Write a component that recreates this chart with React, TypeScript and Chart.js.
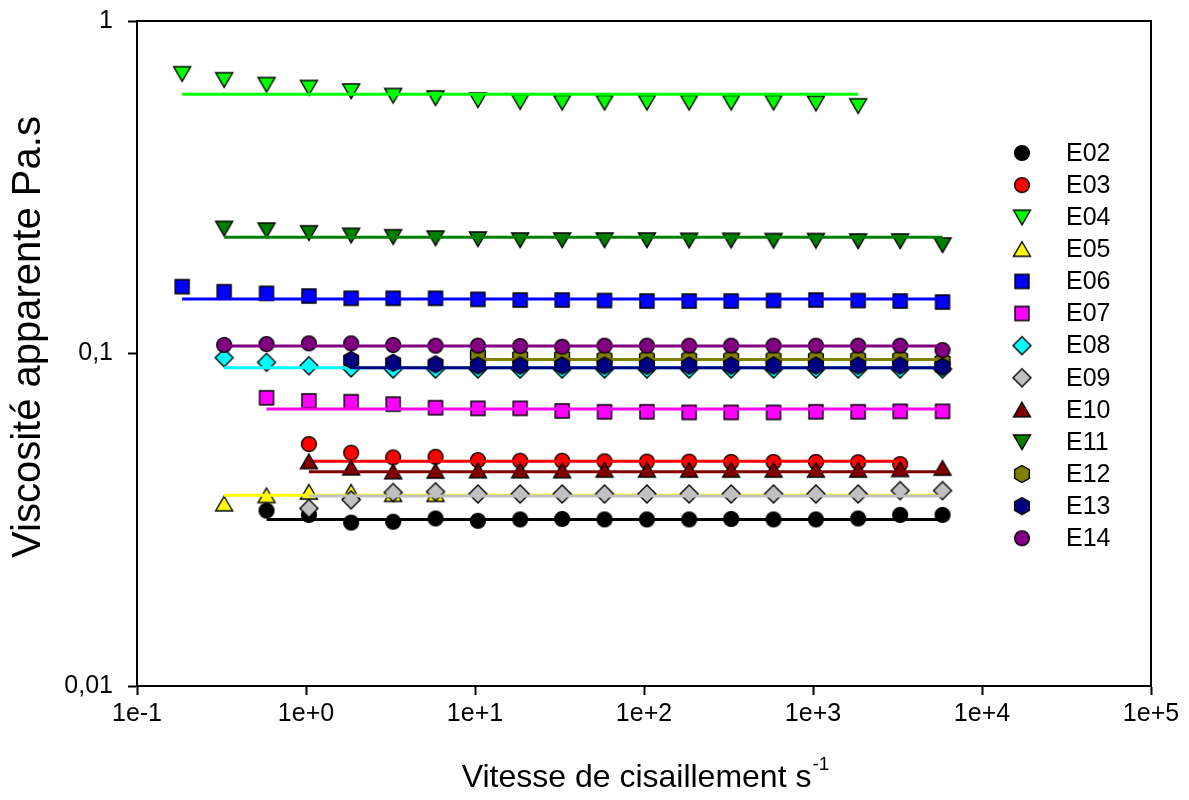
import React, { useEffect, useRef } from 'react';
import { Chart, registerables } from 'chart.js';

Chart.register(...registerables);

// Shear rate (s^-1) sampling points
const SHEAR_RATE = [0.185, 0.328, 0.584, 1.04, 1.85, 3.28, 5.84, 10.4, 18.5, 32.8, 58.4, 104, 185, 328, 584, 1040, 1850, 3280, 5840];

// Apparent viscosity (Pa.s), null = no measurement
const E02 = [null, null, 0.0337, 0.0327, 0.0310, 0.0312, 0.0319, 0.0314, 0.0317, 0.0318, 0.0317, 0.0317, 0.0317, 0.0318, 0.0317, 0.0317, 0.0319, 0.0327, 0.0327];
const E03 = [null, null, null, 0.0534, 0.0503, 0.0487, 0.0489, 0.0478, 0.0476, 0.0476, 0.0474, 0.0473, 0.0473, 0.0472, 0.0472, 0.0472, 0.0471, 0.0465, null];
const E04 = [0.694, 0.666, 0.644, 0.631, 0.616, 0.597, 0.587, 0.579, 0.572, 0.569, 0.569, 0.569, 0.569, 0.569, 0.569, 0.566, 0.556, null, null];
const E05 = [null, 0.0353, 0.0374, 0.0383, 0.0383, 0.0377, 0.0377, null, null, null, null, null, null, null, null, null, null, null, null];
const E06 = [0.1589, 0.1534, 0.1517, 0.1489, 0.1466, 0.1466, 0.1466, 0.1455, 0.1448, 0.1448, 0.1443, 0.1438, 0.1438, 0.1438, 0.1443, 0.1448, 0.1443, 0.1438, 0.1428];
const E07 = [null, null, 0.0736, 0.0720, 0.0716, 0.0704, 0.0687, 0.0684, 0.0684, 0.0672, 0.0668, 0.0668, 0.0665, 0.0665, 0.0665, 0.0668, 0.0668, 0.0670, 0.0670];
const E08 = [null, 0.0971, 0.0941, 0.0919, 0.0905, 0.0898, 0.0898, 0.0898, 0.0898, 0.0898, 0.0898, 0.0898, 0.0898, 0.0898, 0.0898, 0.0898, 0.0898, 0.0898, 0.0898];
const E09 = [null, null, null, 0.0342, 0.0363, 0.0382, 0.0384, 0.0378, 0.0378, 0.0378, 0.0378, 0.0378, 0.0378, 0.0378, 0.0378, 0.0378, 0.0378, 0.0387, 0.0387];
const E10 = [null, null, null, 0.0473, 0.0453, 0.0441, 0.0443, 0.0444, 0.0444, 0.0444, 0.0446, 0.0446, 0.0446, 0.0446, 0.0446, 0.0446, 0.0446, 0.0448, 0.0452];
const E11 = [null, 0.2379, 0.2351, 0.2307, 0.2267, 0.2245, 0.2225, 0.2210, 0.2195, 0.2195, 0.2195, 0.2195, 0.2190, 0.2190, 0.2187, 0.2187, 0.2180, 0.2180, 0.2120];
const E12 = [null, null, null, null, null, null, null, 0.0990, 0.0978, 0.0978, 0.0967, 0.0967, 0.0967, 0.0967, 0.0967, 0.0967, 0.0967, 0.0967, 0.0949];
const E13 = [null, null, null, null, 0.0956, 0.0938, 0.0928, 0.0920, 0.0920, 0.0920, 0.0920, 0.0920, 0.0920, 0.0920, 0.0920, 0.0920, 0.0920, 0.0920, 0.0912];
const E14 = [null, 0.1061, 0.1068, 0.1073, 0.1073, 0.1061, 0.1056, 0.1056, 0.1053, 0.1048, 0.1056, 0.1056, 0.1056, 0.1056, 0.1056, 0.1056, 0.1056, 0.1056, 0.1024];

// Fitted apparent viscosity per sample and the shear-rate index range of each fit line
const FIT_VALUES = [0.0317, 0.0474, 0.602, 0.0375, 0.1458, 0.0681, 0.0906, 0.0373, 0.0441, 0.2236, 0.0960, 0.0906, 0.1053];
const FIT_START_INDEX = [2, 3, 0, 1, 0, 2, 1, 3, 3, 1, 7, 4, 1];
const FIT_END_INDEX = [18, 17, 16, 18, 18, 18, 18, 18, 18, 18, 18, 18, 18];

const SERIES_NAMES = ['E02', 'E03', 'E04', 'E05', 'E06', 'E07', 'E08', 'E09', 'E10', 'E11', 'E12', 'E13', 'E14'];
const SERIES_VALUES = [E02, E03, E04, E05, E06, E07, E08, E09, E10, E11, E12, E13, E14];
const SERIES_COLORS = ['#000000', '#FF0000', '#00FF00', '#FFFF00', '#0000FF', '#FF00FF', '#00FFFF', '#C0C0C0', '#800000', '#008000', '#808000', '#000080', '#800080'];
const SERIES_MARKERS = ['circle', 'circle', 'triangleDown', 'triangleUp', 'square', 'square', 'diamond', 'diamond', 'triangleUp', 'triangleDown', 'hexagon', 'hexagon', 'circle'];

const X_TICKS = [0.1, 1, 10, 100, 1000, 10000, 100000];
const X_TICK_LABELS = ['1e-1', '1e+0', '1e+1', '1e+2', '1e+3', '1e+4', '1e+5'];
const Y_TICKS = [0.01, 0.1, 1];
const Y_TICK_LABELS = ['0,01', '0,1', '1'];

const X_TITLE = 'Vitesse de cisaillement s';
const X_TITLE_SUP = '-1';
const Y_TITLE = 'Viscosité apparente Pa.s';

const FONT = "'Liberation Sans', Arial, sans-serif";

function makeMarker(shape: string, color: string): HTMLCanvasElement {
  const size = 24;
  const c = document.createElement('canvas');
  c.width = size;
  c.height = size;
  const ctx = c.getContext('2d') as CanvasRenderingContext2D;
  const m = size / 2;
  ctx.beginPath();
  switch (shape) {
    case 'circle':
      ctx.arc(m, m, 7.4, 0, Math.PI * 2);
      break;
    case 'square':
      ctx.rect(m - 7, m - 7, 14, 14);
      break;
    case 'diamond':
      ctx.moveTo(m, m - 9);
      ctx.lineTo(m + 9, m);
      ctx.lineTo(m, m + 9);
      ctx.lineTo(m - 9, m);
      ctx.closePath();
      break;
    case 'triangleUp':
      ctx.moveTo(m, m - 7.5);
      ctx.lineTo(m + 8.5, m + 7);
      ctx.lineTo(m - 8.5, m + 7);
      ctx.closePath();
      break;
    case 'triangleDown':
      ctx.moveTo(m - 8.5, m - 7);
      ctx.lineTo(m + 8.5, m - 7);
      ctx.lineTo(m, m + 7.5);
      ctx.closePath();
      break;
    case 'hexagon': {
      const r = 8.5;
      for (let k = 0; k < 6; k++) {
        const a = -Math.PI / 2 + (k * Math.PI) / 3;
        const px = m + r * Math.cos(a);
        const py = m + r * Math.sin(a);
        if (k === 0) ctx.moveTo(px, py);
        else ctx.lineTo(px, py);
      }
      ctx.closePath();
      break;
    }
  }
  ctx.fillStyle = color;
  ctx.fill();
  ctx.lineWidth = 1.4;
  ctx.strokeStyle = '#000000';
  ctx.stroke();
  return c;
}

export default function App() {
  const canvasRef = useRef<HTMLCanvasElement | null>(null);

  useEffect(() => {
    const canvas = canvasRef.current;
    if (!canvas) return;

    const markers = SERIES_NAMES.map((_, i) => makeMarker(SERIES_MARKERS[i], SERIES_COLORS[i]));

    const datasets: any[] = [];
    SERIES_NAMES.forEach((name, i) => {
      const pts: { x: number; y: number }[] = [];
      SERIES_VALUES[i].forEach((v, k) => {
        if (v !== null) pts.push({ x: SHEAR_RATE[k], y: v as number });
      });
      datasets.push({
        label: name,
        data: pts,
        showLine: false,
        pointStyle: markers[i],
        pointRadius: 8,
        pointHoverRadius: 8,
        backgroundColor: SERIES_COLORS[i],
        borderColor: '#000000',
        order: 1000 - 2 * i,
      });
      datasets.push({
        label: name + ' fit',
        data: [
          { x: SHEAR_RATE[FIT_START_INDEX[i]], y: FIT_VALUES[i] },
          { x: SHEAR_RATE[FIT_END_INDEX[i]], y: FIT_VALUES[i] },
        ],
        showLine: true,
        borderColor: SERIES_COLORS[i],
        borderWidth: 3,
        pointRadius: 0,
        pointHoverRadius: 0,
        order: 1000 - 2 * i - 1,
      });
    });

    const decor = {
      id: 'decor',
      afterDraw(chart: any) {
        const { ctx, chartArea } = chart;
        ctx.save();
        // frame
        ctx.strokeStyle = '#000000';
        ctx.lineWidth = 2;
        ctx.strokeRect(chartArea.left, chartArea.top, chartArea.right - chartArea.left, chartArea.bottom - chartArea.top);

        // legend
        ctx.font = `25px ${FONT}`;
        ctx.fillStyle = '#000000';
        ctx.textBaseline = 'middle';
        ctx.textAlign = 'left';
        SERIES_NAMES.forEach((name, i) => {
          const y = 153 + i * 32.1;
          const mk = markers[i];
          ctx.drawImage(mk, 1022 - mk.width / 2, y - mk.height / 2);
          ctx.fillText(name, 1066, y + 1);
        });

        // x title with superscript
        ctx.font = `32px ${FONT}`;
        const mainW = ctx.measureText(X_TITLE).width;
        ctx.font = `19px ${FONT}`;
        const supW = ctx.measureText(X_TITLE_SUP).width;
        const startX = 645 - (mainW + supW) / 2;
        ctx.textBaseline = 'alphabetic';
        ctx.font = `32px ${FONT}`;
        ctx.fillText(X_TITLE, startX, 787);
        ctx.font = `19px ${FONT}`;
        ctx.fillText(X_TITLE_SUP, startX + mainW + 1, 770);

        // y title
        ctx.translate(29, 337);
        ctx.rotate(-Math.PI / 2);
        ctx.font = `40px ${FONT}`;
        ctx.textAlign = 'center';
        ctx.textBaseline = 'middle';
        ctx.fillText(Y_TITLE, 0, 0);
        ctx.restore();
      },
    };

    const chart = new Chart(canvas, {
      type: 'scatter',
      data: { datasets },
      options: {
        animation: false,
        responsive: false,
        events: [],
        layout: { padding: { left: 0, right: 38, top: 21, bottom: 0 } },
        plugins: {
          legend: { display: false },
          tooltip: { enabled: false },
        },
        scales: {
          x: {
            type: 'logarithmic',
            min: 0.1,
            max: 100000,
            afterBuildTicks: (s: any) => {
              s.ticks = X_TICKS.map((v) => ({ value: v }));
            },
            afterFit: (s: any) => {
              s.height = 114;
              s.paddingLeft = 0;
              s.paddingRight = 0;
              s.paddingTop = 0;
              s.paddingBottom = 0;
            },
            ticks: {
              callback: (_v: any, i: number) => X_TICK_LABELS[i],
              font: { family: FONT, size: 25 },
              color: '#000000',
              padding: 4,
              maxRotation: 0,
              autoSkip: false,
            },
            grid: { drawOnChartArea: false, drawTicks: true, tickLength: 9, tickColor: '#000000', tickWidth: 2 },
            border: { display: true, color: '#000000', width: 2 },
          },
          y: {
            type: 'logarithmic',
            min: 0.01,
            max: 1,
            afterBuildTicks: (s: any) => {
              s.ticks = Y_TICKS.map((v) => ({ value: v }));
            },
            afterFit: (s: any) => {
              s.width = 137;
              s.paddingLeft = 0;
              s.paddingRight = 0;
              s.paddingTop = 0;
              s.paddingBottom = 0;
            },
            ticks: {
              callback: (_v: any, i: number) => Y_TICK_LABELS[i],
              font: { family: FONT, size: 25 },
              color: '#000000',
              padding: 15,
              autoSkip: false,
            },
            grid: { drawOnChartArea: false, drawTicks: true, tickLength: 9, tickColor: '#000000', tickWidth: 2 },
            border: { display: true, color: '#000000', width: 2 },
          },
        },
      },
      plugins: [decor],
    } as any);

    return () => {
      chart.destroy();
    };
  }, []);

  return (
    <div style={{ position: 'fixed', left: 0, top: 0, width: 1189, height: 800, background: '#ffffff' }}>
      <canvas ref={canvasRef} width={1189} height={800} style={{ display: 'block', width: 1189, height: 800 }} />
    </div>
  );
}
